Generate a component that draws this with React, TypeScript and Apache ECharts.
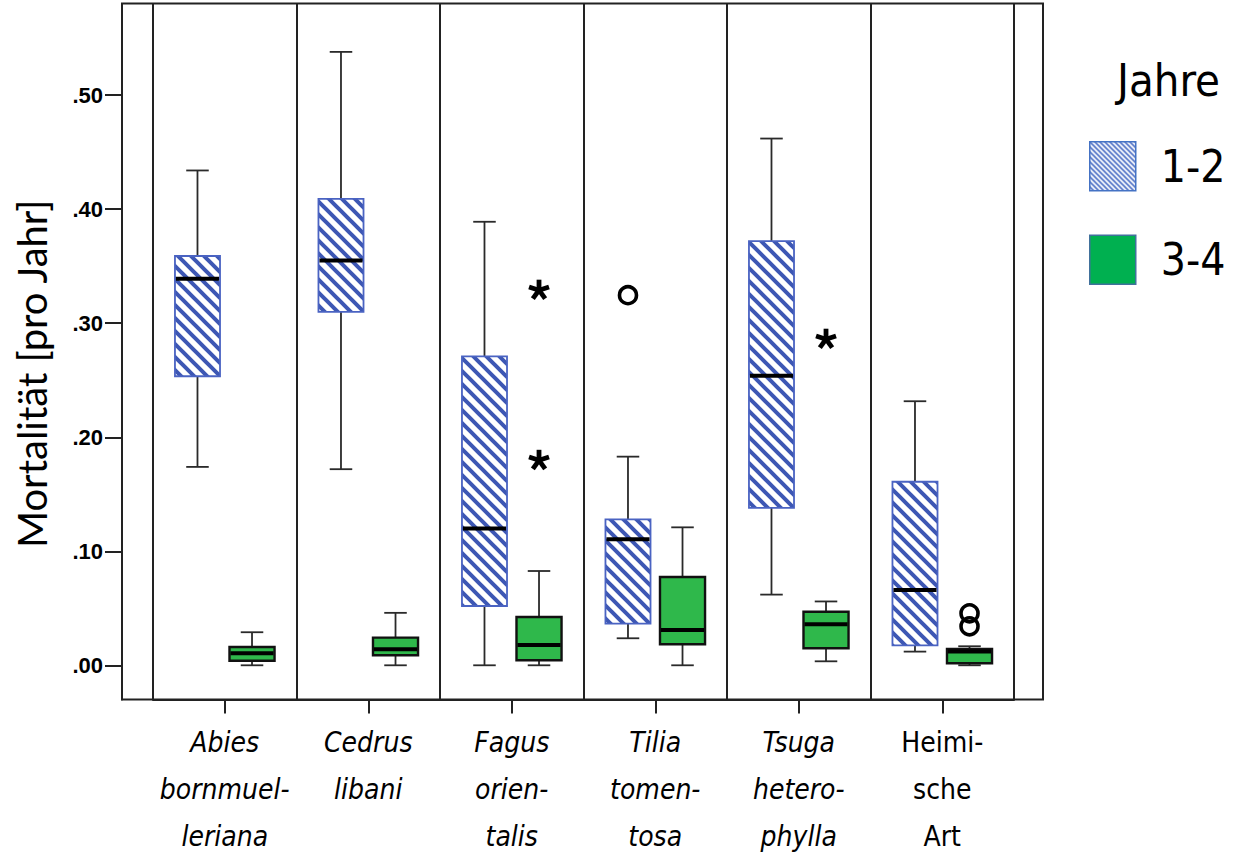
import React, { useEffect, useRef } from 'react';
import * as echarts from 'echarts';

// ---- data ----
const categories = [
  'Abies\nbornmuel-\nleriana',
  'Cedrus\nlibani',
  'Fagus\norien-\ntalis',
  'Tilia\ntomen-\ntosa',
  'Tsuga\nhetero-\nphylla',
  'Heimi-\nsche\nArt',
];
const italicLabel = [true, true, true, true, true, false];
const seriesNames = ['1-2', '3-4'];
// [min, Q1, median, Q3, max]
const years12 = [
  [0.174, 0.2535, 0.339, 0.359, 0.434],
  [0.172, 0.31, 0.355, 0.409, 0.538],
  [0.0, 0.052, 0.12, 0.271, 0.389],
  [0.0237, 0.0365, 0.1105, 0.128, 0.183],
  [0.062, 0.138, 0.254, 0.372, 0.462],
  [0.012, 0.0175, 0.066, 0.161, 0.2316],
];
const years34 = [
  [0.0, 0.004, 0.0105, 0.016, 0.029],
  [0.0, 0.0088, 0.014, 0.0243, 0.046],
  [0.0, 0.0044, 0.0178, 0.0424, 0.0827],
  [0.0, 0.0184, 0.031, 0.0775, 0.121],
  [0.0035, 0.015, 0.036, 0.047, 0.056],
  [0.0, 0.0018, 0.012, 0.0143, 0.0167],
];
// [categoryIndex, value]
const outlierCircles12 = [[3, 0.3246]];
const outlierStars12: number[][] = [];
const outlierCircles34 = [[5, 0.0456], [5, 0.0342]];
const outlierStars34 = [[2, 0.329], [2, 0.1798], [4, 0.286]];
const yTicks = [0, 0.1, 0.2, 0.3, 0.4, 0.5];
const yMin = -0.03;
const yMax = 0.58;

// ---- styles ----
const NARROW = '"Liberation Sans Narrow", "Arial Narrow", "DejaVu Sans Condensed", sans-serif';
const LINE = '#222222';
const BLUE = '#3d57b4';
const GREEN = '#2fb84b';

function hatch(size: number, width: number, color: string) {
  const s = size;
  const h = s / 2;
  const svg =
    `<svg xmlns="http://www.w3.org/2000/svg" width="${s}" height="${s}">` +
    `<rect width="${s}" height="${s}" fill="#ffffff"/>` +
    `<path d="M${-h},${h} L${h},${s + h} M-1,-1 L${s + 1},${s + 1} M${h},${-h} L${s + h},${h}" stroke="${color}" stroke-width="${width}" fill="none"/>` +
    `</svg>`;
  return {
    image: 'data:image/svg+xml;charset=utf-8,' + encodeURIComponent(svg),
    repeat: 'repeat',
    imageWidth: s,
    imageHeight: s,
  };
}

const boxHatch = hatch(13, 4, BLUE);
const legendHatch = hatch(5, 1.6, '#4a6cc4');

function boxRenderer(side: number, fill: any, stroke: string, strokeWidth: number) {
  return (_params: any, api: any) => {
    const idx = api.value(0);
    const band = api.size([1, 0])[0];
    const cx = api.coord([idx, 0])[0] + side * band * 0.19;
    const hw = band * 0.157;
    const cap = hw * 0.5;
    const yLow = api.coord([idx, api.value(1)])[1];
    const yQ1 = api.coord([idx, api.value(2)])[1];
    const yMed = api.coord([idx, api.value(3)])[1];
    const yQ3 = api.coord([idx, api.value(4)])[1];
    const yHigh = api.coord([idx, api.value(5)])[1];
    const w = { stroke: '#2a2a2a', lineWidth: 1.8 };
    return {
      type: 'group',
      children: [
        { type: 'line', shape: { x1: cx, y1: yHigh, x2: cx, y2: yQ3 }, style: w },
        { type: 'line', shape: { x1: cx, y1: yQ1, x2: cx, y2: yLow }, style: w },
        { type: 'line', shape: { x1: cx - cap, y1: yHigh, x2: cx + cap, y2: yHigh }, style: w },
        { type: 'line', shape: { x1: cx - cap, y1: yLow, x2: cx + cap, y2: yLow }, style: w },
        {
          type: 'rect',
          shape: { x: cx - hw, y: yQ3, width: 2 * hw, height: yQ1 - yQ3 },
          style: { fill, stroke, lineWidth: strokeWidth },
        },
        {
          type: 'line',
          shape: { x1: cx - hw + 1, y1: yMed, x2: cx + hw - 1, y2: yMed },
          style: { stroke: '#000', lineWidth: 4 },
        },
      ],
    };
  };
}

function starPolys(cx: number, cy: number, L: number, w: number) {
  const polys: any[] = [];
  for (let k = 0; k < 5; k++) {
    const a = ((-90 + 72 * k) * Math.PI) / 180;
    const dx = Math.cos(a);
    const dy = Math.sin(a);
    const nx = -dy;
    const ny = dx;
    polys.push({
      type: 'polygon',
      shape: {
        points: [
          [cx - nx * w, cy - ny * w],
          [cx + dx * L - nx * w, cy + dy * L - ny * w],
          [cx + dx * L + nx * w, cy + dy * L + ny * w],
          [cx + nx * w, cy + ny * w],
        ],
      },
      style: { fill: '#000' },
    });
  }
  return polys;
}

function outlierRenderer(side: number, kind: 'circle' | 'star') {
  return (_params: any, api: any) => {
    const idx = api.value(0);
    const band = api.size([1, 0])[0];
    const [x0, cy] = api.coord([idx, api.value(1)]);
    const cx = x0 + side * band * 0.19;
    if (kind === 'circle') {
      return {
        type: 'circle',
        shape: { cx, cy, r: 8.5 },
        style: { fill: 'none', stroke: '#000', lineWidth: 3.6 },
      };
    }
    return { type: 'group', children: starPolys(cx, cy, 10.5, 2.4) };
  };
}

export default function App() {
  const ref = useRef<HTMLDivElement>(null);
  useEffect(() => {
    if (!ref.current) return;
    const chart = echarts.init(ref.current, null, { renderer: 'svg' });
    const option: any = {
      animation: false,
      backgroundColor: '#ffffff',
      title: {
        text: 'Jahre',
        left: 1117,
        top: 58,
        padding: 0,
        textStyle: { fontSize: 45, fontWeight: 'normal', fontFamily: NARROW, color: '#000' },
      },
      legend: {
        orient: 'vertical',
        left: 1089,
        top: 141,
        padding: 0,
        itemWidth: 46,
        itemHeight: 49,
        itemGap: 43,
        icon: 'rect',
        selectedMode: false,
        textStyle: {
          fontSize: 44,
          fontFamily: NARROW,
          color: '#000',
          lineHeight: 49,
          padding: [0, 0, 0, 20],
        },
        data: [
          { name: seriesNames[0], itemStyle: { color: legendHatch, borderColor: '#4472c4', borderWidth: 1.5 } },
          { name: seriesNames[1], itemStyle: { color: '#00b050', borderColor: '#41719c', borderWidth: 1.5 } },
        ],
      },
      grid: { left: 153, right: 220, top: 4, bottom: 154.5, containLabel: false, outerBoundsMode: 'none' },
      xAxis: {
        type: 'category',
        data: categories,
        boundaryGap: true,
        axisLine: { show: true, onZero: false, lineStyle: { color: LINE, width: 2 } },
        axisTick: { show: true, alignWithLabel: true, length: 14, lineStyle: { color: LINE, width: 2 } },
        splitLine: { show: true, interval: 0, lineStyle: { color: LINE, width: 2 } },
        axisLabel: {
          interval: 0,
          margin: 19,
          color: '#000',
          fontSize: 28,
          lineHeight: 47,
          fontFamily: NARROW,
          formatter: (v: string, i: number) =>
            v
              .split('\n')
              .map((l) => `{${italicLabel[i] ? 'it' : 'n'}|${l}}`)
              .join('\n'),
          rich: {
            it: { fontStyle: 'italic', fontSize: 28, lineHeight: 47, fontFamily: NARROW, color: '#000' },
            n: { fontStyle: 'normal', fontSize: 28, lineHeight: 47, fontFamily: NARROW, color: '#000' },
          },
        },
      },
      yAxis: {
        type: 'value',
        min: yMin,
        max: yMax,
        offset: 31,
        name: 'Mortalität [pro Jahr]',
        nameLocation: 'middle',
        nameGap: 70,
        nameTextStyle: { fontSize: 40, fontFamily: 'Lato, "Open Sans", sans-serif', color: '#000', padding: [0, 44, 0, 0] },
        axisLine: { show: true, lineStyle: { color: LINE, width: 2 } },
        axisTick: { show: true, length: 17, customValues: yTicks, lineStyle: { color: LINE, width: 2 } },
        splitLine: { show: false },
        axisLabel: {
          customValues: yTicks,
          margin: 19,
          color: '#000',
          fontSize: 22,
          fontWeight: 'bold',
          fontFamily: '"Liberation Sans", Arial, sans-serif',
          formatter: (v: number) => v.toFixed(2).replace(/^0/, ''),
        },
      },
      graphic: [
        {
          type: 'rect',
          z: 100,
          shape: { x: 122, y: 3.5, width: 921, height: 696 },
          style: { fill: 'none', stroke: LINE, lineWidth: 2 },
          silent: true,
        },
      ],
      series: [
        {
          name: seriesNames[0],
          type: 'custom',
          itemStyle: { color: BLUE },
          encode: { x: 0, y: [1, 2, 3, 4, 5] },
          data: years12.map((d, i) => [i, ...d]),
          renderItem: boxRenderer(-1, boxHatch, '#4a63c2', 1.8),
        },
        {
          name: seriesNames[1],
          type: 'custom',
          itemStyle: { color: GREEN },
          encode: { x: 0, y: [1, 2, 3, 4, 5] },
          data: years34.map((d, i) => [i, ...d]),
          renderItem: boxRenderer(1, GREEN, '#111', 2.4),
        },
        {
          name: 'Ausreißer 1-2',
          type: 'custom',
          encode: { x: 0, y: 1 },
          data: outlierCircles12,
          renderItem: outlierRenderer(-1, 'circle'),
        },
        {
          name: 'Extremwerte 1-2',
          type: 'custom',
          encode: { x: 0, y: 1 },
          data: outlierStars12,
          renderItem: outlierRenderer(-1, 'star'),
        },
        {
          name: 'Ausreißer 3-4',
          type: 'custom',
          encode: { x: 0, y: 1 },
          data: outlierCircles34,
          renderItem: outlierRenderer(1, 'circle'),
        },
        {
          name: 'Extremwerte 3-4',
          type: 'custom',
          encode: { x: 0, y: 1 },
          data: outlierStars34,
          renderItem: outlierRenderer(1, 'star'),
        },
      ],
    };
    chart.setOption(option);
    return () => chart.dispose();
  }, []);
  return (
    <div
      ref={ref}
      style={{ position: 'fixed', left: 0, top: 0, width: 1234, height: 854, background: '#fff' }}
    />
  );
}
